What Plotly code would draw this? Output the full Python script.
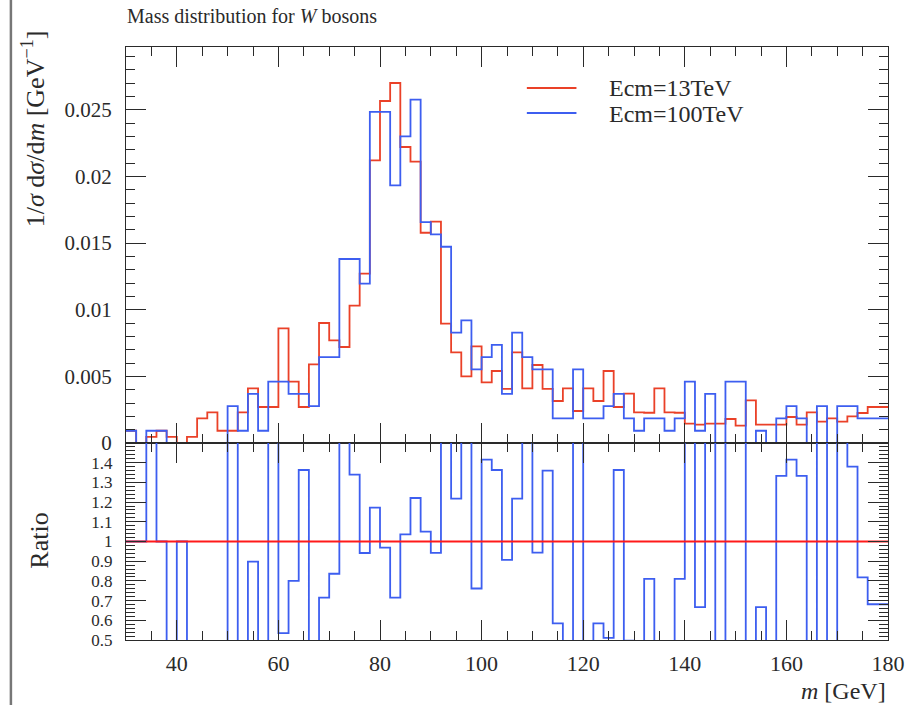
import numpy as np
import plotly.graph_objects as go

# Histogram binning: 75 bins of 2 GeV between 30 and 180 GeV
m_low, m_high, bin_width = 30.0, 180.0, 2.0
edges = np.arange(m_low, m_high + bin_width / 2, bin_width)

# Normalised W-boson mass distributions, 1/sigma dsigma/dm in units of 1e-3 GeV^-1
ecm13 = [0.92, 0.0, 0.46, 0.92, 0.46, 0.0, 0.46, 1.84, 2.3, 0.92,
         0.92, 2.3, 4.1, 2.7, 2.7, 8.6, 4.6, 2.7, 5.9, 9.0,
         7.7, 7.2, 10.3, 12.7, 21.2, 25.65, 27.0, 22.2, 21.1, 15.77,
         16.6, 8.95, 6.8, 5.0, 7.25, 4.55, 5.4, 4.06, 6.8, 4.1,
         5.85, 4.06, 3.15, 4.1, 2.4, 4.1, 3.15, 5.4, 2.7, 3.7,
         2.3, 2.27, 4.1, 2.3, 2.27, 1.45, 1.38, 1.45, 1.45, 1.8,
         1.3, 3.2, 1.38, 1.38, 1.38, 1.95, 1.38, 2.3, 1.6, 1.84,
         1.6, 2.0, 2.25, 2.7, 2.7]
ecm100 = [0.92, 0.0, 0.92, 0.92, 0.0, 0.0, 0.0, 0.0, 0.0, 0.0,
          2.76, 0.92, 3.68, 0.92, 4.6, 4.6, 3.68, 3.68, 2.76, 6.44,
          6.44, 13.8, 13.8, 11.96, 24.84, 24.84, 19.32, 23.0, 25.76, 16.56,
          15.64, 14.72, 8.28, 9.2, 5.52, 6.44, 7.36, 3.68, 8.28, 6.44,
          5.52, 5.52, 1.84, 1.84, 5.52, 1.84, 1.84, 2.76, 3.68, 1.84,
          0.92, 1.84, 1.84, 0.92, 1.84, 4.6, 0.92, 3.68, 0.0, 4.6,
          4.6, 0.0, 0.92, 0.0, 1.84, 2.76, 1.84, 0.0, 2.76, 0.0,
          2.76, 2.76, 1.84, 1.84, 1.84]

series_names = ["Ecm=13TeV", "Ecm=100TeV"]
x_tick_values = [40, 60, 80, 100, 120, 140, 160, 180]
y_tick_values = [0, 0.005, 0.01, 0.015, 0.02, 0.025]
y_tick_labels = ["0", "0.005", "0.01", "0.015", "0.02", "0.025"]
ratio_tick_values = [0.5, 0.6, 0.7, 0.8, 0.9, 1.0, 1.1, 1.2, 1.3, 1.4]
ratio_tick_labels = ["0.5", "0.6", "0.7", "0.8", "0.9", "1", "1.1", "1.2", "1.3", "1.4"]

RED = "#ea4128"
BLUE = "#3d5ef0"
FONT = "Liberation Serif"
INK = "#2a2a2a"

ref = np.array(ecm13) * 1e-3
alt = np.array(ecm100) * 1e-3
# ratio to the 13 TeV reference; empty reference bins are shown at unity
ratio = np.where(ref > 0, alt / np.where(ref > 0, ref, 1.0), 1.0)


def step(values):
    return np.append(values, values[-1])


# canvas geometry (pixels)
W, H = 917, 705
L, R, T, B = 126, 894, 47, 640
SPLIT = 443


def px(x):
    return (x - L) / (R - L)


def py(y):
    return (B - y) / (B - T)


fig = go.Figure()
fig.add_trace(go.Scatter(x=edges, y=step(ref), mode="lines", line_shape="hv",
                         line=dict(color=RED, width=1.8), name=series_names[0],
                         xaxis="x", yaxis="y", showlegend=False))
fig.add_trace(go.Scatter(x=edges, y=step(alt), mode="lines", line_shape="hv",
                         line=dict(color=BLUE, width=1.8), name=series_names[1],
                         xaxis="x", yaxis="y", showlegend=False))
fig.add_trace(go.Scatter(x=edges, y=step(ratio), mode="lines", line_shape="hv",
                         line=dict(color=BLUE, width=1.8), name=series_names[1],
                         xaxis="x2", yaxis="y2", showlegend=False))
fig.add_trace(go.Scatter(x=edges, y=step(np.ones_like(ratio)), mode="lines", line_shape="hv",
                         line=dict(color="#ff1a1a", width=1.8), name=series_names[0],
                         xaxis="x2", yaxis="y2", showlegend=False))

split_frac = py(SPLIT)

common_x = dict(range=[m_low, m_high], ticks="inside", ticklen=20, tickwidth=1,
                tickcolor=INK, showline=True, linecolor=INK, linewidth=1.2,
                mirror="allticks", tickvals=x_tick_values, showgrid=False, zeroline=False,
                minor=dict(dtick=5, tick0=0, ticks="inside", ticklen=9, tickcolor=INK,
                           showgrid=False))

fig.update_layout(
    width=W, height=H,
    margin=dict(l=L, r=W - R, t=T, b=H - B),
    plot_bgcolor="white", paper_bgcolor="white",
    font=dict(family=FONT, color=INK),
    xaxis=dict(**common_x, anchor="y", showticklabels=False),
    xaxis2=dict(**common_x, anchor="y2", showticklabels=True,
                tickfont=dict(family=FONT, size=22, color=INK),
                ticktext=[str(v) for v in x_tick_values], ticklabelstandoff=3),
    yaxis=dict(domain=[split_frac, 1], range=[0, 0.0297], ticks="inside", ticklen=20,
               tickcolor=INK, showline=True, linecolor=INK, linewidth=1.2,
               mirror="allticks", tickvals=y_tick_values, ticktext=y_tick_labels,
               tickfont=dict(family=FONT, size=21, color=INK), ticklabelstandoff=9,
               showgrid=False, zeroline=False,
               minor=dict(dtick=0.001, tick0=0, ticks="inside", ticklen=9,
                          tickcolor=INK, showgrid=False)),
    yaxis2=dict(domain=[0, split_frac], range=[0.5, 1.5], ticks="inside", ticklen=20,
                tickcolor=INK, showline=True, linecolor=INK, linewidth=1.2,
                mirror="allticks", tickvals=ratio_tick_values, ticktext=ratio_tick_labels,
                tickfont=dict(family=FONT, size=17, color=INK), ticklabelstandoff=9,
                showgrid=False, zeroline=False,
                minor=dict(dtick=0.02, tick0=0, ticks="inside", ticklen=9,
                           tickcolor=INK, showgrid=False)),
)

annotations = [
    dict(text="Mass distribution for <i>W</i> bosons", x=px(125), y=py(16),
         xanchor="left", yanchor="middle", font=dict(size=20)),
    dict(text="1/<i>σ</i> d<i>σ</i>/d<i>m</i> [GeV<sup>−1</sup>]", x=px(33), y=py(28),
         xanchor="center", yanchor="top", textangle=-90, font=dict(size=26)),
    dict(text="Ratio", x=px(38), y=py(541), xanchor="center", yanchor="middle",
         textangle=-90, font=dict(size=26)),
    dict(text="<i>m</i> [GeV]", x=px(894), y=py(691), xanchor="right", yanchor="middle",
         font=dict(size=24)),
    dict(text=series_names[0], x=px(611), y=py(88), xanchor="left", yanchor="middle",
         font=dict(size=24)),
    dict(text=series_names[1], x=px(611), y=py(114), xanchor="left", yanchor="middle",
         font=dict(size=24)),
]
for a in annotations:
    a.update(xref="paper", yref="paper", showarrow=False)
fig.update_layout(annotations=annotations)

shapes = [
    dict(type="line", x0=px(530), x1=px(580), y0=py(88), y1=py(88),
         line=dict(color=RED, width=2)),
    dict(type="line", x0=px(530), x1=px(580), y0=py(113), y1=py(113),
         line=dict(color=BLUE, width=2)),
    dict(type="line", x0=px(10), x1=px(10), y0=py(0), y1=py(705),
         line=dict(color="#777", width=2.5)),
]
for s in shapes:
    s.update(xref="paper", yref="paper")
fig.update_layout(shapes=shapes)

fig.write_html("out.html")
